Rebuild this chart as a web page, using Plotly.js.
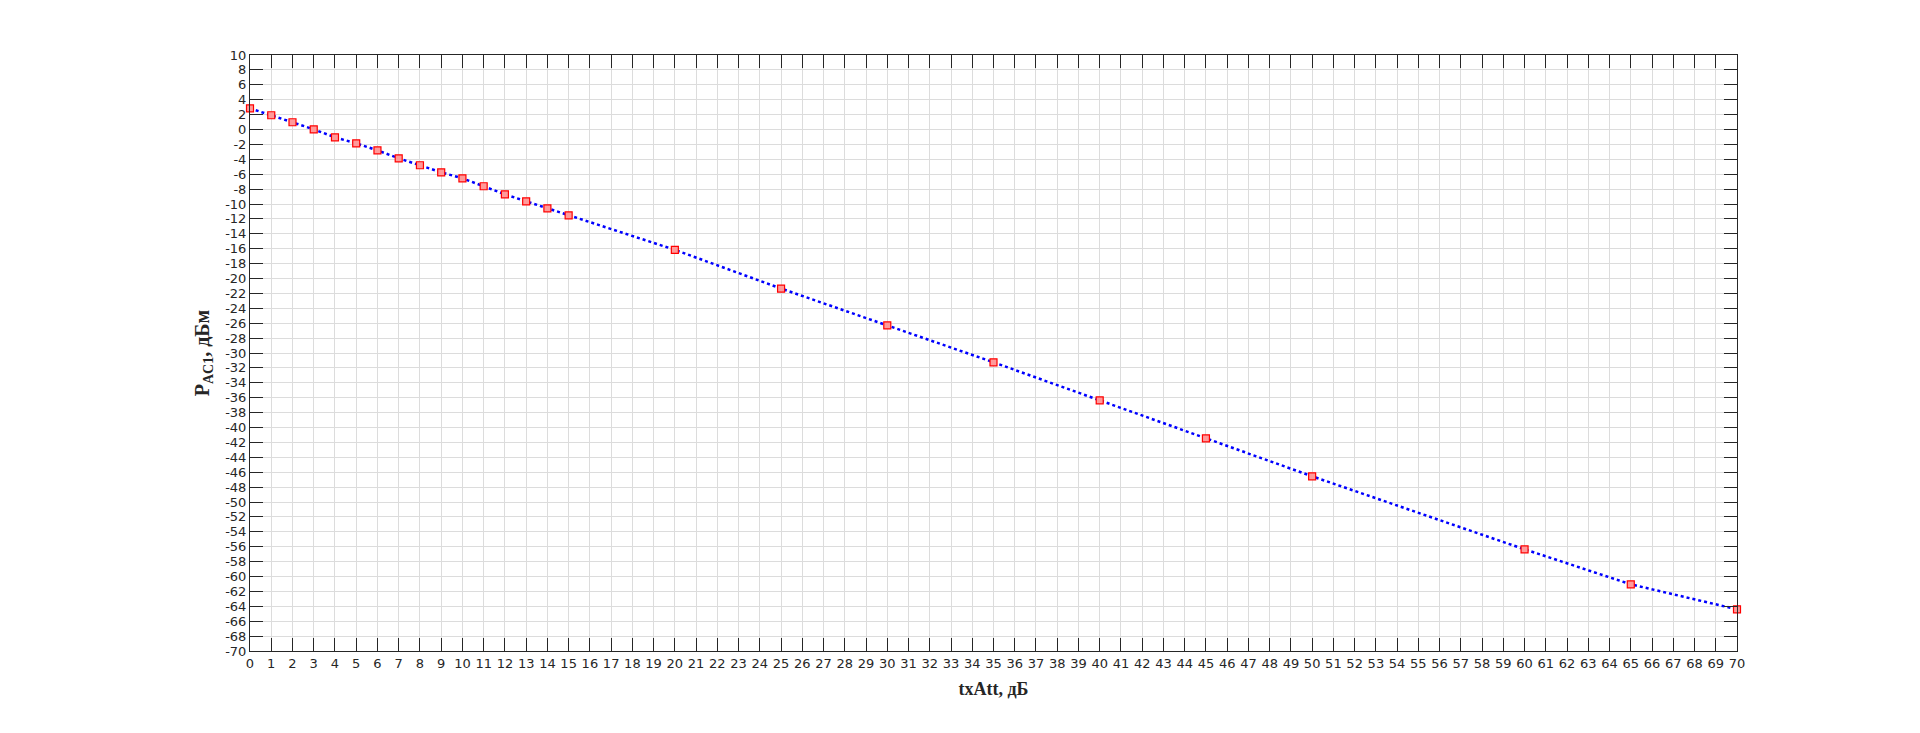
<!DOCTYPE html>
<html>
<head>
<meta charset="utf-8">
<script src="https://cdn.plot.ly/plotly-3.0.1.min.js"></script>
<style>
html,body{margin:0;padding:0;background:#fff;}
#chart{width:1920px;height:733px;}
</style>
</head>
<body>
<div id="chart"></div>
<script>
// Data
const txAtt = [0,1,2,3,4,5,6,7,8,9,10,11,12,13,14,15,20,25,30,35,40,45,50,60,65,70];
const pAC1  = [2.84,1.91,0.97,0.02,-1.05,-1.86,-2.80,-3.87,-4.80,-5.75,-6.55,-7.62,-8.70,-9.64,-10.58,-11.52,-16.15,-21.35,-26.30,-31.25,-36.35,-41.45,-46.55,-56.35,-61.05,-64.40];
const xTicks = Array.from({length:71},(_,i)=>i);
const yTicks = Array.from({length:41},(_,i)=>-70+2*i);

const traces = [
  {
    x: txAtt, y: pAC1, type: 'scatter', mode: 'lines',
    line: {color: '#0000ff', width: 2.5, dash: 'dot'},
    hoverinfo: 'skip', cliponaxis: false
  },
  {
    x: txAtt, y: pAC1, type: 'scatter', mode: 'markers',
    marker: {symbol: 'square', size: 7, color: '#ff9a9a', line: {color: '#ff0000', width: 1.2}},
    cliponaxis: false
  }
];

const axisCommon = {
  showline: true, linecolor: '#262626', linewidth: 1,
  mirror: 'ticks', ticks: 'inside', ticklen: 13, tickwidth: 1, tickcolor: '#262626',
  showgrid: true, gridcolor: '#dcdcdc', gridwidth: 1, zeroline: false,
  tickfont: {family: 'DejaVu Sans', size: 13, color: '#262626'}
};

const layout = {
  width: 1920, height: 733,
  margin: {l: 250, r: 183, t: 55, b: 82},
  paper_bgcolor: '#ffffff', plot_bgcolor: '#ffffff',
  showlegend: false,
  xaxis: Object.assign({}, axisCommon, {
    range: [0, 70], tickmode: 'array', tickvals: xTicks, ticktext: xTicks.map(String),
    title: {text: '<b>txAtt, дБ</b>', font: {family: 'Liberation Serif', size: 18, color: '#262626'}, standoff: 12}
  }),
  yaxis: Object.assign({}, axisCommon, {
    range: [-70, 10], tickmode: 'array', tickvals: yTicks, ticktext: yTicks.map(String),
    title: {text: '<b>P<sub>AC1</sub>, дБм</b>', font: {family: 'Liberation Serif', size: 20, color: '#262626'}, standoff: 10}
  })
};

Plotly.newPlot('chart', traces, layout, {displayModeBar: false, staticPlot: true});
</script>
</body>
</html>
